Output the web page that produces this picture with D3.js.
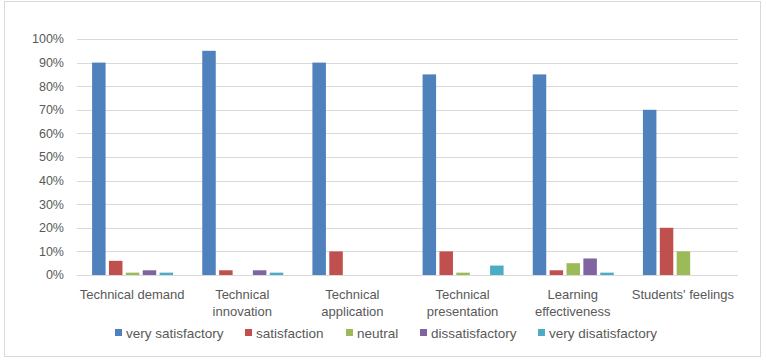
<!DOCTYPE html>
<html><head><meta charset="utf-8">
<script src="https://cdn.jsdelivr.net/npm/d3@7/dist/d3.min.js"></script>
<style>body{margin:0;background:#fff}svg{display:block}</style>
</head><body>
<script>
const categories = ["Technical demand", "Technical innovation", "Technical application", "Technical presentation", "Learning effectiveness", "Students' feelings"];
const categoryLines = [["Technical demand"], ["Technical", "innovation"], ["Technical", "application"], ["Technical", "presentation"], ["Learning", "effectiveness"], ["Students' feelings"]];
const seriesNames = ["very satisfactory", "satisfaction", "neutral", "dissatisfactory", "very disatisfactory"];
const verySatisfactory = [90, 95, 90, 85, 85, 70];
const satisfaction = [6, 2, 10, 10, 2, 20];
const neutral = [1, 0, 0, 1, 5, 10];
const dissatisfactory = [2, 2, 0, 0, 7, 0];
const veryDisatisfactory = [1, 1, 0, 4, 1, 0];
const yTicks = [0, 10, 20, 30, 40, 50, 60, 70, 80, 90, 100];
const colors = ["#4F81BD", "#C0504D", "#9BBB59", "#8064A2", "#4BACC6"];

const series = [verySatisfactory, satisfaction, neutral, dissatisfactory, veryDisatisfactory];
const W = 766, H = 361;
const svg = d3.select("body").append("svg").attr("width", W).attr("height", H);
const font = "Liberation Sans, Arial, sans-serif";

svg.append("rect").attr("x", 4.5).attr("y", 1.5).attr("width", 756).attr("height", 355)
  .attr("fill", "#fff").attr("stroke", "#d9d9d9").attr("stroke-width", 1);

const x0 = d3.scaleBand().domain(categories).range([77, 738]).paddingInner(0).paddingOuter(0);
const x1 = d3.scaleBand().domain(d3.range(5)).range([0, 81]).paddingInner(0.2).paddingOuter(0);
const y = d3.scaleLinear().domain([0, 100]).range([275, 39]);

const grid = svg.append("g");
grid.selectAll("line").data(yTicks).join("line")
  .attr("x1", 77).attr("x2", 738)
  .attr("y1", d => Math.round(y(d)) + 0.5).attr("y2", d => Math.round(y(d)) + 0.5)
  .attr("stroke", "#d9d9d9").attr("stroke-width", 1);

svg.append("g").selectAll("text").data(yTicks).join("text")
  .attr("x", 64).attr("y", d => y(d)).attr("dy", "0.35em")
  .attr("text-anchor", "end").attr("font-family", font).attr("font-size", 12.5)
  .attr("fill", "#595959").text(d => d + "%");

const groups = svg.append("g").selectAll("g").data(categories).join("g")
  .attr("transform", c => `translate(${x0(c) + x0.bandwidth() / 2 - 40},0)`);
groups.selectAll("rect").data((c, i) => series.map((s, k) => ({k, v: s[i]})).filter(d => d.v > 0)).join("rect")
  .attr("x", d => x1(d.k)).attr("width", x1.bandwidth())
  .attr("y", d => y(d.v)).attr("height", d => y(0) - y(d.v))
  .attr("fill", d => colors[d.k]);

const labels = svg.append("g").selectAll("text").data(categories).join("text")
  .attr("text-anchor", "middle").attr("font-family", font).attr("font-size", 13).attr("fill", "#595959")
  .attr("x", c => x0(c) + x0.bandwidth() / 2).attr("y", 299);
labels.selectAll("tspan").data((c, i) => categoryLines[i]).join("tspan")
  .attr("x", function() { return d3.select(this.parentNode).attr("x"); })
  .attr("dy", (d, j) => j === 0 ? 0 : 17).text(d => d);

const legendX = [115, 245, 346, 420, 538];
const leg = svg.append("g").selectAll("g").data(seriesNames).join("g")
  .attr("transform", (d, i) => `translate(${legendX[i]},0)`);
leg.append("rect").attr("x", 0).attr("y", 329).attr("width", 7).attr("height", 7).attr("fill", (d, i) => colors[i]);
leg.append("text").attr("x", 11).attr("y", 333).attr("dy", "0.35em")
  .attr("font-family", font).attr("font-size", 13.5).attr("fill", "#595959").text(d => d);
</script>
</body></html>
